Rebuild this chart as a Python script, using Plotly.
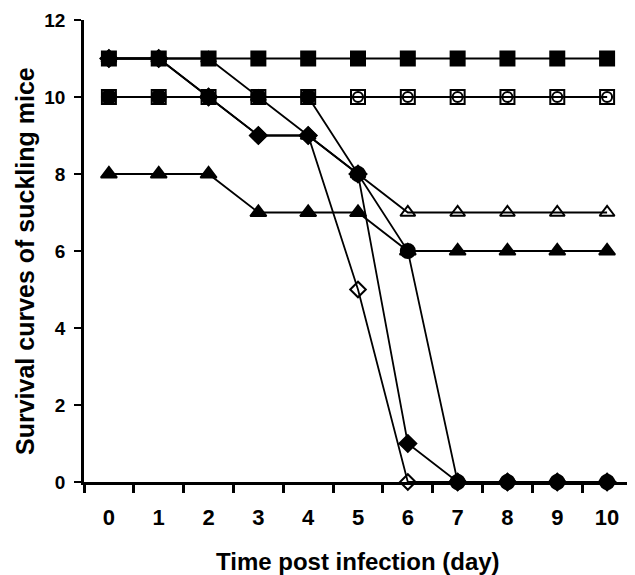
import plotly.graph_objects as go

days = ["0", "1", "2", "3", "4", "5", "6", "7", "8", "9", "10"]
y_ticks = [0, 2, 4, 6, 8, 10, 12]

filled_square = [11, 11, 11, 11, 11, 11, 11, 11, 11, 11, 11]
open_square = [10, 10, 10, 10, 10, 10, 10, 10, 10, 10, 10]
filled_circle = [10, 10, 10, 10, 10, 8, 6, 0, 0, 0, 0]
open_circle = [10, 10, 10, 10, 10, 10, 10, 10, 10, 10, 10]
filled_triangle = [8, 8, 8, 7, 7, 7, 6, 6, 6, 6, 6]
open_triangle = [11, 11, 11, 10, 9, 8, 7, 7, 7, 7, 7]
filled_diamond = [11, 11, 10, 9, 9, 8, 1, 0, 0, 0, 0]
open_diamond = [11, 11, 10, 9, 9, 5, 0, 0, 0, 0, 0]

series = [
    ("Open diamond", open_diamond, "diamond-open", 12),
    ("Open triangle", open_triangle, "triangle-up-open", 13),
    ("Filled diamond", filled_diamond, "diamond", 13),
    ("Filled triangle", filled_triangle, "triangle-up", 14),
    ("Open square", open_square, "square-open", 14),
    ("Filled circle", filled_circle, "circle", 14),
    ("Open circle", open_circle, "circle-open", 10),
    ("Filled square", filled_square, "square", 14),
]

fig = go.Figure()
for name, vals, sym, size in series:
    fig.add_trace(go.Scatter(
        x=days, y=vals, name=name, mode="lines+markers",
        line=dict(color="black", width=1.8),
        marker=dict(symbol=sym, size=size, color="black",
                    line=dict(color="black", width=2)),
        cliponaxis=False,
    ))

font = "Liberation Sans, Arial, sans-serif"
fig.update_layout(
    width=627, height=567,
    margin=dict(l=76, r=3, t=12, b=93),
    paper_bgcolor="white", plot_bgcolor="white",
    showlegend=False,
    font=dict(family=font, color="black"),
    xaxis=dict(
        type="category", range=[-0.5, 10.5], tickson="boundaries",
        tickmode="array", tickvals=days, ticktext=["<b>%s</b>" % d for d in days],
        ticks="outside", ticklen=8, tickwidth=2.5, tickcolor="black",
        showline=True, linecolor="black", linewidth=3,
        showgrid=False, zeroline=False, automargin=False,
        ticklabelstandoff=14,
        tickfont=dict(size=22, family=font),
    ),
    yaxis=dict(
        range=[0, 12], tickmode="array", tickvals=y_ticks,
        ticktext=["<b>%d</b>" % v for v in y_ticks],
        ticks="outside", ticklen=7, tickwidth=2, tickcolor="black",
        showline=True, linecolor="black", linewidth=2.5,
        showgrid=False, zeroline=False, automargin=False,
        ticklabelstandoff=5,
        tickfont=dict(size=19, family=font),
    ),
    annotations=[
        dict(text="<b>Time post infection (day)</b>", xref="paper", yref="paper",
             x=0.5, y=-0.173, xanchor="center", yanchor="middle", showarrow=False,
             font=dict(size=24, family=font)),
        dict(text="<b>Survival curves of suckling mice</b>", xref="paper", yref="paper",
             x=-0.108, y=0.478, xanchor="center", yanchor="middle", showarrow=False,
             textangle=-90, font=dict(size=25, family=font)),
    ],
)

fig.write_html("out.html")
